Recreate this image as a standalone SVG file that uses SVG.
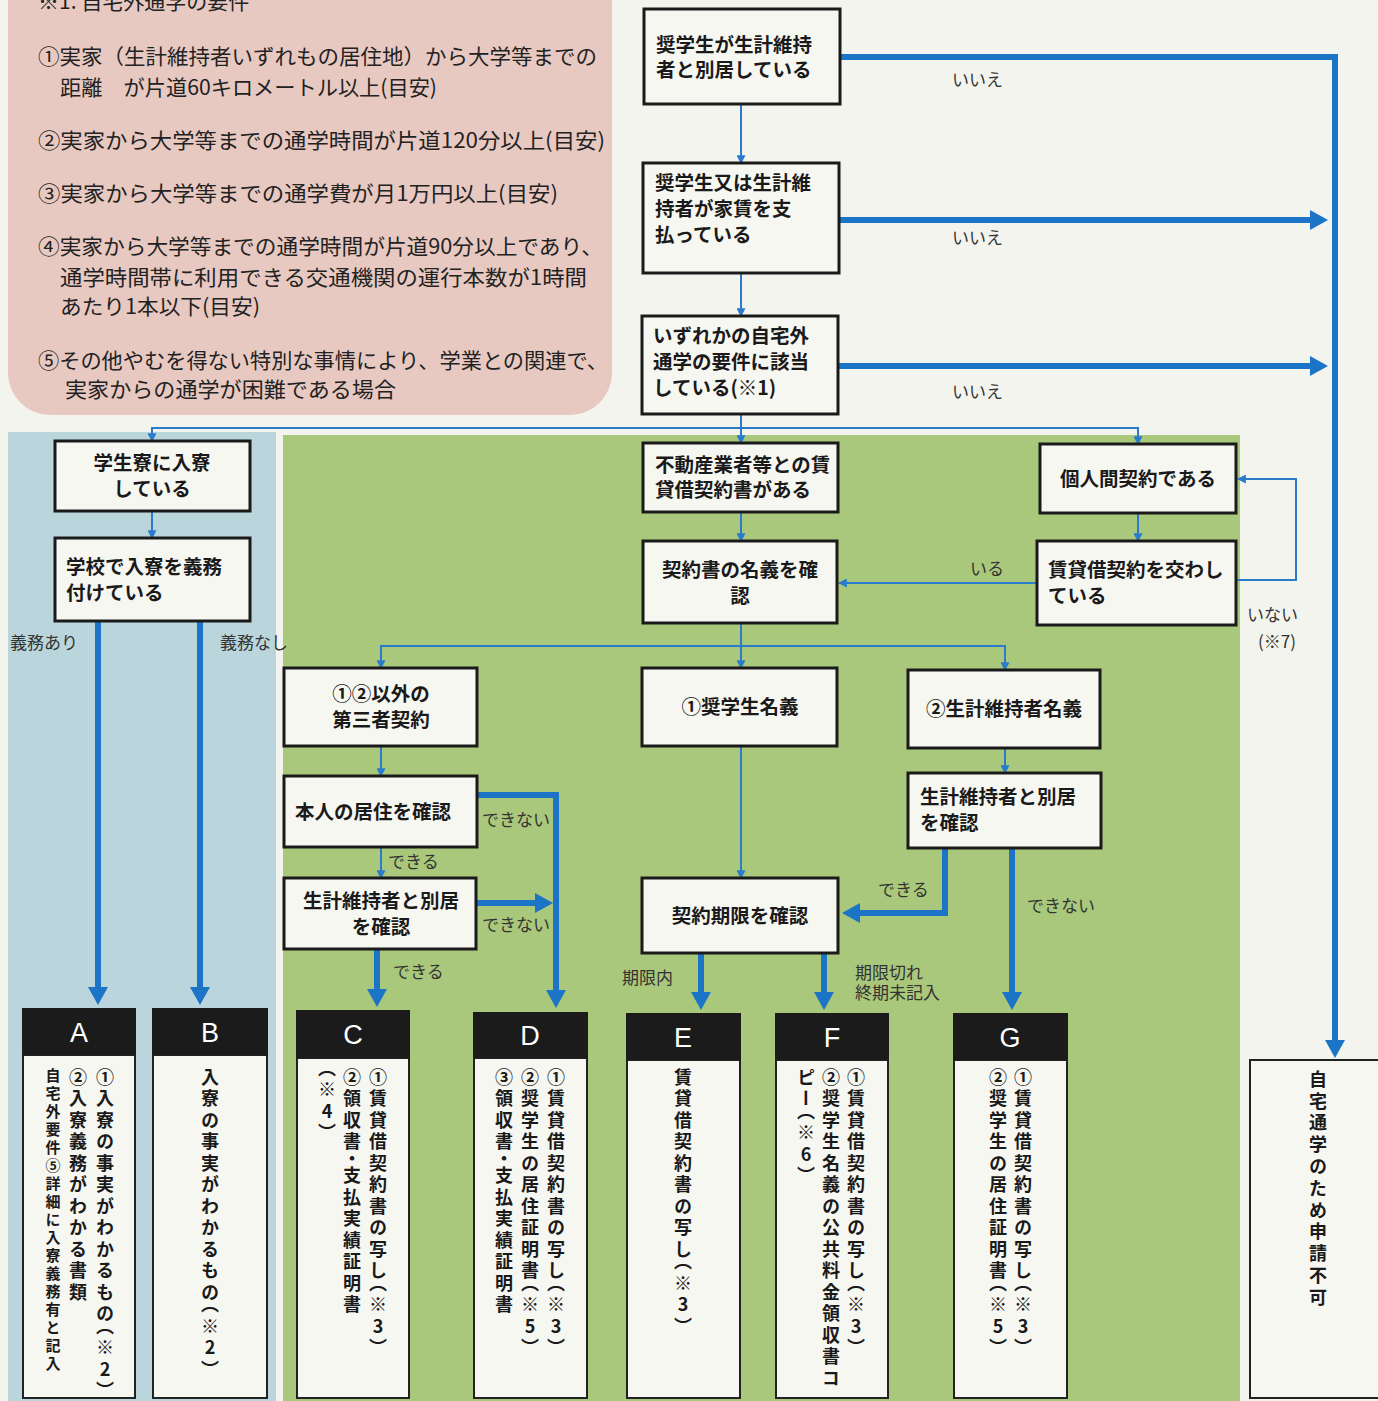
<svg xmlns="http://www.w3.org/2000/svg" width="1378" height="1401" viewBox="0 0 1378 1401">
<defs>
<style>
.bg{fill:#f4f4ee}
.box{fill:#f7f7f2;stroke:#1a1a1a;stroke-width:3}
.body{fill:#f7f7f2;stroke:#222;stroke-width:2}
.hdr{fill:#1b1b1b}
.t{font-family:"Noto Sans CJK JP","Noto Sans",sans-serif;font-weight:bold;font-size:19.5px;fill:#1a1a1a}
.c{text-anchor:middle}
.p{font-family:"Noto Sans CJK JP","Noto Sans",sans-serif;font-size:21px;fill:#222}
.lbl{font-family:"Noto Sans CJK JP","Noto Sans",sans-serif;font-size:17px;fill:#333}
.hl{font-family:"Liberation Sans",Arial,sans-serif;font-size:27px;fill:#fff;text-anchor:middle}
.v{font-family:"Noto Sans CJK JP","Noto Sans",sans-serif;font-weight:bold;font-size:18px;writing-mode:vertical-rl;text-orientation:upright;letter-spacing:3.5px;fill:#1a1a1a;font-feature-settings:"vhal"}
.vs{font-size:15px;letter-spacing:3px}
.thin{stroke:#2a7bcc;stroke-width:2;fill:none;marker-end:url(#ah)}
.thick{stroke:#1c74c6;stroke-width:6;fill:none;marker-end:url(#AH)}
</style>
<marker id="ah" markerUnits="userSpaceOnUse" markerWidth="9" markerHeight="9" viewBox="0 0 8 8" refX="7" refY="4" orient="auto"><path d="M0,0 L8,4 L0,8 z" fill="#2a7bcc"/></marker>
<marker id="AH" markerUnits="userSpaceOnUse" markerWidth="18" markerHeight="20" viewBox="0 0 18 20" refX="10" refY="10" orient="auto"><path d="M0,0 L18,10 L0,20 z" fill="#1c74c6"/></marker>
</defs>

<rect class="bg" x="0" y="0" width="1378" height="1401"/>

<g id="requirements-panel">
<rect x="8" y="-40" width="604" height="455" rx="42" fill="#e8c9c1"/>
<text class="p" x="38" y="9">※1. 自宅外通学の要件</text>
<text class="p" x="38" y="64" textLength="559" lengthAdjust="spacingAndGlyphs">①実家（生計維持者いずれもの居住地）から大学等までの</text>
<text class="p" x="60" y="95" textLength="377" lengthAdjust="spacingAndGlyphs">距離　が片道60キロメートル以上(目安)</text>
<text class="p" x="38" y="148" textLength="567" lengthAdjust="spacingAndGlyphs">②実家から大学等までの通学時間が片道120分以上(目安)</text>
<text class="p" x="38" y="201" textLength="520" lengthAdjust="spacingAndGlyphs">③実家から大学等までの通学費が月1万円以上(目安)</text>
<text class="p" x="38" y="254" textLength="565" lengthAdjust="spacingAndGlyphs">④実家から大学等までの通学時間が片道90分以上であり、</text>
<text class="p" x="60" y="285" textLength="527" lengthAdjust="spacingAndGlyphs">通学時間帯に利用できる交通機関の運行本数が1時間</text>
<text class="p" x="60" y="314" textLength="200" lengthAdjust="spacingAndGlyphs">あたり1本以下(目安)</text>
<text class="p" x="38" y="368" textLength="570" lengthAdjust="spacingAndGlyphs">⑤その他やむを得ない特別な事情により、学業との関連で、</text>
<text class="p" x="65" y="397" textLength="331" lengthAdjust="spacingAndGlyphs">実家からの通学が困難である場合</text>
</g>

<g id="panels">
<rect x="8" y="432" width="268" height="975" fill="#bad6dc"/>
<rect x="283" y="435" width="957" height="975" fill="#aac87c"/>
</g>

<g id="connectors">
<path class="thin" d="M741,104 V163"/>
<path class="thin" d="M741,273 V316"/>
<path class="thin" d="M741,414 V443"/>
<path class="thin" d="M741,428 H152 V441"/>
<path class="thin" d="M741,428 H1138 V444"/>
<path class="thin" d="M152,511 V538"/>
<path class="thin" d="M741,512 V541"/>
<path class="thin" d="M1138,513 V541"/>
<path class="thin" d="M1037,583 H839"/>
<path class="thin" d="M1236,580 H1296 V479 H1238"/>
<path class="thin" d="M741,623 V668"/>
<path class="thin" d="M741,646 H381 V668"/>
<path class="thin" d="M741,646 H1005 V670"/>
<path class="thin" d="M381,746 V776"/>
<path class="thin" d="M381,847 V878"/>
<path class="thin" d="M741,746 V878"/>
<path class="thin" d="M1005,748 V773"/>

<path class="thick" d="M840,57 H1335 V1050"/>
<path class="thick" d="M839,220 H1320"/>
<path class="thick" d="M838,366 H1320"/>
<path class="thick" d="M98,621 V997"/>
<path class="thick" d="M200,621 V997"/>
<path class="thick" d="M477,795 H556 V1000"/>
<path class="thick" d="M476,903 H545"/>
<path class="thick" d="M377,949 V999"/>
<path class="thick" d="M945,848 V913 H850"/>
<path class="thick" d="M1012,848 V1002"/>
<path class="thick" d="M701,952 V1002"/>
<path class="thick" d="M824,952 V1002"/>

<text class="lbl" x="952" y="86">いいえ</text>
<text class="lbl" x="952" y="244">いいえ</text>
<text class="lbl" x="952" y="398">いいえ</text>
<text class="lbl" x="10" y="649" fill="#444">義務あり</text>
<text class="lbl" x="220" y="649" fill="#444">義務なし</text>
<text class="lbl" x="970" y="575">いる</text>
<text class="lbl" x="1247" y="621">いない<tspan x="1258" y="648">(※7)</tspan></text>
<text class="lbl" x="482" y="826">できない</text>
<text class="lbl" x="388" y="868">できる</text>
<text class="lbl" x="482" y="931">できない</text>
<text class="lbl" x="393" y="978">できる</text>
<text class="lbl" x="622" y="984">期限内</text>
<text class="lbl" x="855" y="979">期限切れ<tspan x="855" y="999">終期未記入</tspan></text>
<text class="lbl" x="878" y="896">できる</text>
<text class="lbl" x="1027" y="912">できない</text>
</g>

<g id="n-separate">
<rect class="box" x="644" y="9" width="196" height="95"/>
<text class="t" x="656" y="52">奨学生が生計維持<tspan x="656" y="77">者と別居している</tspan></text>
</g>
<g id="n-rent">
<rect class="box" x="643" y="163" width="196" height="110"/>
<text class="t" x="655" y="190">奨学生又は生計維<tspan x="655" y="216">持者が家賃を支</tspan><tspan x="655" y="242">払っている</tspan></text>
</g>
<g id="n-requirement">
<rect class="box" x="642" y="316" width="196" height="98"/>
<text class="t" x="653" y="343">いずれかの自宅外<tspan x="653" y="369">通学の要件に該当</tspan><tspan x="653" y="395">している(※1)</tspan></text>
</g>

<g id="n-dorm">
<rect class="box" x="55" y="441" width="195" height="70"/>
<text class="t c" x="152" y="470">学生寮に入寮<tspan x="152" y="496">している</tspan></text>
</g>
<g id="n-dorm-duty">
<rect class="box" x="55" y="538" width="195" height="83"/>
<text class="t" x="66" y="574">学校で入寮を義務<tspan x="66" y="600">付けている</tspan></text>
</g>

<g id="n-agency">
<rect class="box" x="643" y="443" width="195" height="69"/>
<text class="t" x="655" y="472">不動産業者等との賃<tspan x="655" y="497">貸借契約書がある</tspan></text>
</g>
<g id="n-private">
<rect class="box" x="1040" y="444" width="196" height="69"/>
<text class="t c" x="1138" y="486">個人間契約である</text>
</g>
<g id="n-lease">
<rect class="box" x="1037" y="541" width="199" height="84"/>
<text class="t" x="1048" y="577">賃貸借契約を交わし<tspan x="1048" y="603">ている</tspan></text>
</g>
<g id="n-name">
<rect class="box" x="643" y="541" width="194" height="82"/>
<text class="t c" x="740" y="577">契約書の名義を確<tspan x="740" y="603">認</tspan></text>
</g>
<g id="n-third">
<rect class="box" x="284" y="668" width="193" height="78"/>
<text class="t c" x="381" y="701">①②以外の<tspan x="381" y="727">第三者契約</tspan></text>
</g>
<g id="n-student">
<rect class="box" x="642" y="668" width="195" height="78"/>
<text class="t c" x="740" y="714">①奨学生名義</text>
</g>
<g id="n-supporter">
<rect class="box" x="908" y="670" width="192" height="78"/>
<text class="t c" x="1004" y="716">②生計維持者名義</text>
</g>
<g id="n-self">
<rect class="box" x="284" y="776" width="193" height="71"/>
<text class="t" x="295" y="819">本人の居住を確認</text>
</g>
<g id="n-sep-left">
<rect class="box" x="284" y="878" width="192" height="71"/>
<text class="t c" x="381" y="908">生計維持者と別居<tspan x="381" y="934">を確認</tspan></text>
</g>
<g id="n-sep-right">
<rect class="box" x="908" y="773" width="193" height="75"/>
<text class="t" x="920" y="804">生計維持者と別居<tspan x="920" y="830">を確認</tspan></text>
</g>
<g id="n-term">
<rect class="box" x="642" y="878" width="196" height="75"/>
<text class="t c" x="740" y="923">契約期限を確認</text>
</g>

<g id="r-A">
<rect class="body" x="23" y="1055" width="112" height="343"/>
<rect class="hdr" x="22" y="1008" width="114" height="47"/>
<text class="hl" x="79" y="1042">A</text>
<text class="v" x="105" y="1068">①入寮の事実がわかるもの（※2）</text>
<text class="v" x="78" y="1068">②入寮義務がわかる書類</text>
<text class="v vs" x="53" y="1068">自宅外要件⑤詳細に入寮義務有と記入</text>
</g>
<g id="r-B">
<rect class="body" x="153" y="1055" width="114" height="343"/>
<rect class="hdr" x="152" y="1008" width="116" height="47"/>
<text class="hl" x="210" y="1042">B</text>
<text class="v" x="210" y="1068">入寮の事実がわかるもの（※2）</text>
</g>
<g id="r-C">
<rect class="body" x="297" y="1058" width="112" height="340"/>
<rect class="hdr" x="296" y="1010" width="114" height="48"/>
<text class="hl" x="353" y="1044">C</text>
<text class="v" x="378" y="1068">①賃貸借契約書の写し（※3）</text>
<text class="v" x="352" y="1068">②領収書・支払実績証明書</text>
<text class="v" x="327" y="1068">（※4）</text>
</g>
<g id="r-D">
<rect class="body" x="474" y="1058" width="113" height="340"/>
<rect class="hdr" x="473" y="1012" width="115" height="46"/>
<text class="hl" x="530" y="1045">D</text>
<text class="v" x="556" y="1068">①賃貸借契約書の写し（※3）</text>
<text class="v" x="530" y="1068">②奨学生の居住証明書（※5）</text>
<text class="v" x="504" y="1068">③領収書・支払実績証明書</text>
</g>
<g id="r-E">
<rect class="body" x="627" y="1060" width="113" height="338"/>
<rect class="hdr" x="626" y="1013" width="115" height="47"/>
<text class="hl" x="683" y="1047">E</text>
<text class="v" x="683" y="1068">賃貸借契約書の写し（※3）</text>
</g>
<g id="r-F">
<rect class="body" x="776" y="1060" width="112" height="338"/>
<rect class="hdr" x="775" y="1013" width="114" height="47"/>
<text class="hl" x="832" y="1047">F</text>
<text class="v" x="856" y="1068">①賃貸借契約書の写し（※3）</text>
<text class="v" x="831" y="1068">②奨学生名義の公共料金領収書コ</text>
<text class="v" x="806" y="1068">ピー（※6）</text>
</g>
<g id="r-G">
<rect class="body" x="954" y="1060" width="113" height="338"/>
<rect class="hdr" x="953" y="1013" width="115" height="47"/>
<text class="hl" x="1010" y="1047">G</text>
<text class="v" x="1023" y="1068">①賃貸借契約書の写し（※3）</text>
<text class="v" x="998" y="1068">②奨学生の居住証明書（※5）</text>
</g>
<g id="r-reject">
<rect class="body" x="1250" y="1060" width="140" height="338"/>
<text class="v" x="1318" y="1070" style="letter-spacing:3.8px">自宅通学のため申請不可</text>
</g>
</svg>
